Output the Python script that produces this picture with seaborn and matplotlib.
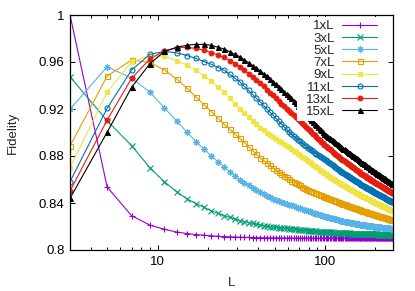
import numpy as np
import pandas as pd
import matplotlib
matplotlib.use("Agg")
import matplotlib.pyplot as plt
import matplotlib.ticker as mticker
from matplotlib.patches import Rectangle
import seaborn as sns

# system length L (odd values 3..255)
L = [3, 5, 7, 9, 11, 13, 15, 17, 19, 21, 23, 25, 27, 29, 31, 33, 35, 37, 39, 41,
     43, 45, 47, 49, 51, 53, 55, 57, 59, 61, 63, 65, 67, 69, 71, 73, 75, 77, 79, 81,
     83, 85, 87, 89, 91, 93, 95, 97, 99, 101, 103, 105, 107, 109, 111, 113, 115, 117, 119, 121,
     123, 125, 127, 129, 131, 133, 135, 137, 139, 141, 143, 145, 147, 149, 151, 153, 155, 157, 159, 161,
     163, 165, 167, 169, 171, 173, 175, 177, 179, 181, 183, 185, 187, 189, 191, 193, 195, 197, 199, 201,
     203, 205, 207, 209, 211, 213, 215, 217, 219, 221, 223, 225, 227, 229, 231, 233, 235, 237, 239, 241,
     243, 245, 247, 249, 251, 253, 255]

fid_1xL = [1.0000, 0.8536, 0.8292, 0.8212, 0.8176, 0.8153, 0.8140, 0.8131, 0.8125, 0.8120,
           0.8117, 0.8114, 0.8112, 0.8110, 0.8109,
           0.8108, 0.8107, 0.8106, 0.8105, 0.8105,
           0.8104, 0.8104, 0.8103, 0.8103, 0.8103,
           0.8102, 0.8102, 0.8102, 0.8102, 0.8102, 0.8102,
           0.8101, 0.8101, 0.8101, 0.8101, 0.8101, 0.8101, 0.8101, 0.8101, 0.8101,
           0.8101, 0.8101, 0.8101, 0.8101, 0.8101, 0.8101, 0.8101, 0.8101, 0.8101,
           0.8100, 0.8100, 0.8100, 0.8100, 0.8100, 0.8100, 0.8100, 0.8100, 0.8100, 0.8100, 0.8100, 0.8100, 0.8100,
           0.8100, 0.8100, 0.8100, 0.8100, 0.8100, 0.8100, 0.8100, 0.8100, 0.8100, 0.8100, 0.8100, 0.8100, 0.8100,
           0.8100, 0.8100, 0.8100, 0.8100, 0.8100, 0.8100, 0.8100, 0.8100, 0.8100, 0.8100, 0.8100, 0.8100, 0.8100,
           0.8100, 0.8100, 0.8100, 0.8100, 0.8100, 0.8100, 0.8100, 0.8100, 0.8100, 0.8100, 0.8100, 0.8100, 0.8100,
           0.8100, 0.8100, 0.8100, 0.8100, 0.8100, 0.8100, 0.8100, 0.8100, 0.8100, 0.8100, 0.8100, 0.8100, 0.8100,
           0.8100, 0.8100, 0.8100, 0.8100, 0.8100, 0.8100, 0.8100, 0.8100, 0.8100, 0.8100, 0.8100, 0.8100, 0.8100]

fid_3xL = [0.9475, 0.9100, 0.8888, 0.8700, 0.8580, 0.8496, 0.8435, 0.8395, 0.8362, 0.8333,
           0.8311, 0.8292, 0.8277, 0.8263, 0.8250,
           0.8241, 0.8234, 0.8226, 0.8219, 0.8212,
           0.8208, 0.8204, 0.8200, 0.8196, 0.8192,
           0.8190, 0.8188, 0.8186, 0.8184, 0.8182, 0.8180,
           0.8178, 0.8176, 0.8174, 0.8172, 0.8170, 0.8168, 0.8166, 0.8165, 0.8163,
           0.8162, 0.8161, 0.8159, 0.8158, 0.8157, 0.8156, 0.8155, 0.8154, 0.8153, 0.8152,
           0.8151, 0.8151, 0.8150, 0.8149, 0.8149, 0.8148, 0.8147, 0.8147, 0.8146, 0.8146, 0.8145, 0.8145, 0.8144,
           0.8144, 0.8143, 0.8143, 0.8142, 0.8142, 0.8141, 0.8141, 0.8140, 0.8140, 0.8140, 0.8139, 0.8139, 0.8138, 0.8138, 0.8138, 0.8137, 0.8137,
           0.8137, 0.8136, 0.8136, 0.8136, 0.8136, 0.8135, 0.8135, 0.8135, 0.8134, 0.8134, 0.8134, 0.8134, 0.8133, 0.8133, 0.8133, 0.8133, 0.8132, 0.8132, 0.8132, 0.8132,
           0.8132, 0.8132, 0.8131, 0.8131, 0.8131, 0.8131, 0.8131, 0.8130, 0.8130, 0.8130, 0.8130, 0.8130, 0.8129, 0.8129, 0.8129, 0.8129, 0.8129, 0.8128, 0.8128, 0.8128, 0.8128, 0.8128, 0.8128, 0.8127, 0.8127, 0.8127, 0.8127]

fid_5xL = [0.9197, 0.9560, 0.9462, 0.9343, 0.9208, 0.9100, 0.9002, 0.8922, 0.8857, 0.8800,
           0.8750, 0.8705, 0.8666, 0.8630, 0.8596,
           0.8572, 0.8550, 0.8529, 0.8509, 0.8490,
           0.8476, 0.8463, 0.8450, 0.8437, 0.8425,
           0.8417, 0.8409, 0.8401, 0.8394, 0.8387, 0.8380,
           0.8373, 0.8367, 0.8361, 0.8355, 0.8349, 0.8344, 0.8338, 0.8333, 0.8328,
           0.8323, 0.8319, 0.8314, 0.8310, 0.8305, 0.8301, 0.8297, 0.8293, 0.8288, 0.8285,
           0.8281, 0.8278, 0.8275, 0.8272, 0.8269, 0.8266, 0.8263, 0.8260, 0.8257, 0.8254, 0.8251, 0.8249, 0.8246,
           0.8244, 0.8242, 0.8240, 0.8239, 0.8237, 0.8235, 0.8233, 0.8232, 0.8230, 0.8228, 0.8227, 0.8225, 0.8223, 0.8222, 0.8220, 0.8219, 0.8217,
           0.8216, 0.8215, 0.8214, 0.8213, 0.8212, 0.8211, 0.8210, 0.8208, 0.8207, 0.8206, 0.8206, 0.8205, 0.8203, 0.8203, 0.8202, 0.8201, 0.8200, 0.8199, 0.8198, 0.8197,
           0.8196, 0.8195, 0.8195, 0.8194, 0.8194, 0.8193, 0.8192, 0.8192, 0.8191, 0.8190, 0.8190, 0.8189, 0.8188, 0.8188, 0.8187, 0.8186, 0.8186, 0.8185, 0.8185, 0.8184, 0.8183, 0.8183, 0.8182, 0.8182, 0.8181, 0.8181, 0.8180]

fid_7xL = [0.8885, 0.9480, 0.9617, 0.9595, 0.9532, 0.9455, 0.9376, 0.9300, 0.9235, 0.9177,
           0.9120, 0.9070, 0.9027, 0.8987, 0.8950,
           0.8912, 0.8879, 0.8846, 0.8815, 0.8785,
           0.8763, 0.8741, 0.8720, 0.8700, 0.8680,
           0.8664, 0.8648, 0.8632, 0.8618, 0.8603, 0.8590,
           0.8579, 0.8569, 0.8559, 0.8549, 0.8540, 0.8530, 0.8522, 0.8513, 0.8505,
           0.8499, 0.8493, 0.8487, 0.8481, 0.8476, 0.8471, 0.8465, 0.8460, 0.8454, 0.8450,
           0.8445, 0.8441, 0.8436, 0.8432, 0.8427, 0.8423, 0.8419, 0.8415, 0.8410, 0.8407, 0.8403, 0.8399, 0.8395,
           0.8391, 0.8388, 0.8385, 0.8382, 0.8378, 0.8375, 0.8372, 0.8369, 0.8366, 0.8363, 0.8360, 0.8357, 0.8354, 0.8352, 0.8349, 0.8346, 0.8343,
           0.8341, 0.8339, 0.8335, 0.8333, 0.8331, 0.8329, 0.8326, 0.8324, 0.8321, 0.8319, 0.8317, 0.8315, 0.8312, 0.8311, 0.8308, 0.8306, 0.8304, 0.8303, 0.8300, 0.8298,
           0.8296, 0.8294, 0.8292, 0.8291, 0.8289, 0.8288, 0.8286, 0.8284, 0.8283, 0.8281, 0.8280, 0.8278, 0.8276, 0.8274, 0.8273, 0.8271, 0.8270, 0.8268, 0.8267, 0.8265, 0.8264, 0.8262, 0.8261, 0.8259, 0.8258, 0.8257, 0.8255]

fid_9xL = [0.8700, 0.9345, 0.9600, 0.9655, 0.9650, 0.9612, 0.9572, 0.9530, 0.9482, 0.9435,
           0.9387, 0.9345, 0.9294, 0.9245, 0.9200,
           0.9163, 0.9131, 0.9099, 0.9069, 0.9040,
           0.9020, 0.9000, 0.8981, 0.8963, 0.8945,
           0.8930, 0.8915, 0.8900, 0.8886, 0.8873, 0.8860,
           0.8846, 0.8832, 0.8819, 0.8807, 0.8795, 0.8783, 0.8772, 0.8760, 0.8750,
           0.8738, 0.8727, 0.8715, 0.8705, 0.8694, 0.8684, 0.8673, 0.8664, 0.8653, 0.8645,
           0.8637, 0.8630, 0.8623, 0.8615, 0.8608, 0.8601, 0.8594, 0.8587, 0.8580, 0.8574, 0.8568, 0.8561, 0.8555,
           0.8549, 0.8544, 0.8539, 0.8534, 0.8528, 0.8523, 0.8518, 0.8513, 0.8508, 0.8503, 0.8498, 0.8493, 0.8488, 0.8484, 0.8479, 0.8475, 0.8470,
           0.8466, 0.8463, 0.8458, 0.8455, 0.8451, 0.8448, 0.8444, 0.8440, 0.8436, 0.8433, 0.8430, 0.8426, 0.8422, 0.8420, 0.8416, 0.8413, 0.8410, 0.8407, 0.8403, 0.8400,
           0.8397, 0.8394, 0.8391, 0.8389, 0.8386, 0.8383, 0.8380, 0.8378, 0.8375, 0.8373, 0.8370, 0.8367, 0.8364, 0.8362, 0.8359, 0.8357, 0.8354, 0.8351, 0.8349, 0.8347, 0.8344, 0.8342, 0.8339, 0.8337, 0.8335, 0.8333, 0.8330]

fid_11xL = [0.8582, 0.9206, 0.9532, 0.9665, 0.9690, 0.9678, 0.9655, 0.9630, 0.9603, 0.9580,
            0.9553, 0.9530, 0.9495, 0.9462, 0.9432,
            0.9392, 0.9358, 0.9324, 0.9291, 0.9260,
            0.9231, 0.9201, 0.9173, 0.9147, 0.9120,
            0.9096, 0.9073, 0.9048, 0.9027, 0.9005, 0.8985,
            0.8969, 0.8954, 0.8939, 0.8925, 0.8911, 0.8897, 0.8885, 0.8871, 0.8860,
            0.8850, 0.8839, 0.8829, 0.8819, 0.8810, 0.8801, 0.8791, 0.8782, 0.8773, 0.8765,
            0.8756, 0.8747, 0.8739, 0.8730, 0.8722, 0.8714, 0.8705, 0.8698, 0.8689, 0.8682, 0.8675, 0.8667, 0.8660,
            0.8653, 0.8648, 0.8642, 0.8636, 0.8630, 0.8624, 0.8618, 0.8612, 0.8608, 0.8602, 0.8596, 0.8591, 0.8585, 0.8581, 0.8575, 0.8571, 0.8565,
            0.8561, 0.8557, 0.8551, 0.8547, 0.8543, 0.8539, 0.8535, 0.8531, 0.8527, 0.8523, 0.8519, 0.8515, 0.8511, 0.8507, 0.8503, 0.8499, 0.8496, 0.8493, 0.8488, 0.8485,
            0.8482, 0.8478, 0.8475, 0.8472, 0.8469, 0.8466, 0.8463, 0.8459, 0.8456, 0.8454, 0.8451, 0.8447, 0.8444, 0.8441, 0.8438, 0.8435, 0.8432, 0.8429, 0.8427, 0.8424, 0.8421, 0.8419, 0.8415, 0.8413, 0.8411, 0.8408, 0.8405]

fid_13xL = [0.8502, 0.9106, 0.9461, 0.9626, 0.9695, 0.9720, 0.9725, 0.9715, 0.9700, 0.9680,
            0.9659, 0.9640, 0.9612, 0.9585, 0.9560,
            0.9528, 0.9500, 0.9472, 0.9445, 0.9420,
            0.9393, 0.9365, 0.9339, 0.9315, 0.9290,
            0.9267, 0.9246, 0.9224, 0.9204, 0.9184, 0.9165,
            0.9146, 0.9129, 0.9111, 0.9095, 0.9079, 0.9063, 0.9049, 0.9033, 0.9020,
            0.9005, 0.8990, 0.8975, 0.8962, 0.8948, 0.8936, 0.8921, 0.8909, 0.8896, 0.8885,
            0.8875, 0.8865, 0.8856, 0.8847, 0.8838, 0.8829, 0.8819, 0.8811, 0.8802, 0.8794, 0.8786, 0.8778, 0.8770,
            0.8762, 0.8756, 0.8749, 0.8742, 0.8735, 0.8728, 0.8722, 0.8715, 0.8709, 0.8703, 0.8696, 0.8690, 0.8683, 0.8679, 0.8672, 0.8667, 0.8660,
            0.8656, 0.8651, 0.8645, 0.8640, 0.8636, 0.8631, 0.8626, 0.8621, 0.8617, 0.8612, 0.8609, 0.8604, 0.8599, 0.8595, 0.8591, 0.8586, 0.8583, 0.8579, 0.8574, 0.8570,
            0.8567, 0.8562, 0.8559, 0.8556, 0.8553, 0.8549, 0.8546, 0.8542, 0.8539, 0.8536, 0.8533, 0.8529, 0.8526, 0.8522, 0.8519, 0.8516, 0.8513, 0.8509, 0.8506, 0.8504, 0.8500, 0.8498, 0.8494, 0.8492, 0.8489, 0.8486, 0.8483]

fid_15xL = [0.8440, 0.9002, 0.9385, 0.9585, 0.9690, 0.9725, 0.9743, 0.9750, 0.9750, 0.9742,
            0.9725, 0.9710, 0.9687, 0.9665, 0.9645,
            0.9617, 0.9593, 0.9569, 0.9547, 0.9525,
            0.9501, 0.9477, 0.9454, 0.9432, 0.9410,
            0.9388, 0.9368, 0.9346, 0.9327, 0.9308, 0.9290,
            0.9268, 0.9247, 0.9227, 0.9208, 0.9190, 0.9171, 0.9154, 0.9135, 0.9120,
            0.9105, 0.9089, 0.9074, 0.9060, 0.9046, 0.9032, 0.9018, 0.9005, 0.8991, 0.8980,
            0.8970, 0.8961, 0.8952, 0.8944, 0.8935, 0.8926, 0.8917, 0.8910, 0.8901, 0.8893, 0.8885, 0.8878, 0.8870,
            0.8862, 0.8856, 0.8849, 0.8842, 0.8835, 0.8828, 0.8822, 0.8815, 0.8809, 0.8803, 0.8796, 0.8790, 0.8783, 0.8779, 0.8772, 0.8767, 0.8760,
            0.8755, 0.8750, 0.8743, 0.8738, 0.8733, 0.8728, 0.8722, 0.8717, 0.8712, 0.8707, 0.8703, 0.8697, 0.8692, 0.8688, 0.8683, 0.8678, 0.8674, 0.8670, 0.8664, 0.8660,
            0.8656, 0.8651, 0.8647, 0.8644, 0.8640, 0.8636, 0.8632, 0.8628, 0.8624, 0.8621, 0.8617, 0.8613, 0.8609, 0.8605, 0.8601, 0.8598, 0.8594, 0.8590, 0.8587, 0.8584, 0.8580, 0.8577, 0.8573, 0.8570, 0.8567, 0.8564, 0.8560]

labels = ["1xL", "3xL", "5xL", "7xL", "9xL", "11xL", "13xL", "15xL"]
series = [fid_1xL, fid_3xL, fid_5xL, fid_7xL, fid_9xL, fid_11xL, fid_13xL, fid_15xL]
y_ticks = [0.8, 0.84, 0.88, 0.92, 0.96, 1.0]
x_ticks = [10, 100]

# gnuplot-like look: colour, marker, filled?, marker size
colors = ["#9400d3", "#009e73", "#56b4e9", "#e69f00", "#f0e442", "#0072b2", "#e51e10", "#000000"]
markers = ["+", "x", (8, 2, 0), "s", "s", "o", "o", "^"]
filled = [True, True, True, False, True, False, True, True]
msizes = [4.5, 4.0, 4.5, 3.6, 3.4, 3.6, 3.4, 3.6]

sns.set_theme(style="ticks")
plt.rcParams["font.family"] = ["Liberation Sans", "DejaVu Sans"]

fig = plt.figure(figsize=(4.15, 2.91), dpi=100)
ax = fig.add_axes([70 / 415, 1 - 250 / 291, 323 / 415, 235 / 291])

for i, (lab, vals) in enumerate(zip(labels, series)):
    df = pd.DataFrame({"L": L, "F": vals})
    sns.lineplot(data=df, x="L", y="F", ax=ax, label=lab,
                 color=colors[i], linewidth=0.8,
                 marker=markers[i], markersize=msizes[i],
                 markeredgecolor=colors[i], markeredgewidth=0.8,
                 markerfacecolor=colors[i] if filled[i] else "none",
                 zorder=2 + i * 0.1)

ax.set_xscale("log")
ax.set_xlim(3, 255)
ax.set_ylim(0.8, 1.0)
ax.set_xticks(x_ticks)
ax.xaxis.set_major_formatter(mticker.FormatStrFormatter("%g"))
ax.xaxis.set_minor_locator(mticker.LogLocator(base=10, subs=np.arange(2, 10)))
ax.xaxis.set_minor_formatter(mticker.NullFormatter())
ax.set_yticks(y_ticks)
ax.yaxis.set_major_formatter(mticker.FormatStrFormatter("%g"))

ax.tick_params(which="both", direction="in", top=True, right=True,
               labelsize=9.5, colors="black", width=0.7)
ax.tick_params(which="major", length=3.5, pad=4)
ax.tick_params(which="minor", length=2)
for sp in ax.spines.values():
    sp.set_linewidth(0.9)
    sp.set_color("black")
    sp.set_zorder(6)

ax.set_xlabel("L", fontsize=9.5, labelpad=7)
ax.set_ylabel("Fidelity", fontsize=9.5, labelpad=14)

# opaque key area like gnuplot
ax.add_patch(Rectangle((0.703, 0.547), 0.275, 0.444, transform=ax.transAxes,
                       facecolor="white", edgecolor="none", zorder=4))
leg = ax.legend(loc="upper right", bbox_to_anchor=(0.952, 0.978), markerfirst=False,
                frameon=False, fontsize=9.5, handlelength=2.7, handletextpad=0.55,
                labelspacing=0.0, borderpad=0, borderaxespad=0)
leg.set_zorder(5)

fig.savefig("out.png", dpi=100)
